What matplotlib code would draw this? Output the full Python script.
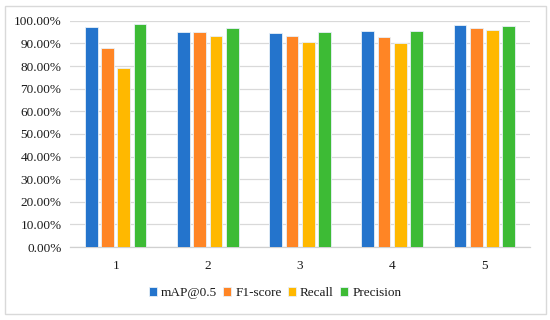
import numpy as np
import matplotlib.pyplot as plt
from matplotlib.patches import Rectangle
from matplotlib.ticker import FuncFormatter

plt.rcParams['font.family'] = ['Liberation Serif', 'DejaVu Serif']

groups = ['1', '2', '3', '4', '5']
series = ['mAP@0.5', 'F1-score', 'Recall', 'Precision']
map05 = [0.972, 0.949, 0.944, 0.957, 0.981]
f1 = [0.881, 0.952, 0.931, 0.927, 0.969]
recall = [0.792, 0.934, 0.906, 0.900, 0.960]
precision = [0.987, 0.969, 0.952, 0.957, 0.978]
colors = ['#2474CC', '#FF8525', '#FFB800', '#3DBB35']

fig = plt.figure(figsize=(5.5, 3.2), dpi=100)
ax = fig.add_axes([0.127, 0.228, 0.837, 0.707])

x = np.arange(len(groups))
step = 0.175
w = 0.14
for i, (vals, c) in enumerate(zip([map05, f1, recall, precision], colors)):
    ax.bar(x + (i - 1.5) * step, vals, w, color=c, edgecolor='#e8f0f8',
           linewidth=0.6, label=series[i], zorder=3)

ax.set_xlim(-0.5, 4.5)
ax.set_ylim(0, 1.0)
ax.set_yticks(np.arange(0, 1.01, 0.1))
ax.yaxis.set_major_formatter(FuncFormatter(lambda v, p: '%.2f%%' % (v * 100)))
ax.set_xticks(x)
ax.set_xticklabels(groups)
ax.grid(axis='y', color='#d9d9d9', linewidth=0.9, zorder=0)
for s in ['top', 'right', 'left']:
    ax.spines[s].set_visible(False)
ax.spines['bottom'].set_color('#d0d0d0')
ax.spines['bottom'].set_linewidth(0.9)
ax.tick_params(length=0, labelsize=9.5, colors='#1a1a1a')
ax.tick_params(axis='x', pad=9)
ax.tick_params(axis='y', pad=6)

fig.legend(*ax.get_legend_handles_labels(), loc='center',
           bbox_to_anchor=(0.5, 1 - 293 / 320), ncol=4, frameon=False,
           fontsize=9.5, handlelength=0.6, handleheight=0.6, handletextpad=0.3,
           columnspacing=0.5, labelcolor='#1a1a1a')

fig.patches.append(Rectangle((5 / 550, 6 / 320), 541 / 550, 308 / 320,
                             transform=fig.transFigure, fill=False,
                             edgecolor='#d9d9d9', linewidth=1))

fig.savefig('out.png', dpi=100)
